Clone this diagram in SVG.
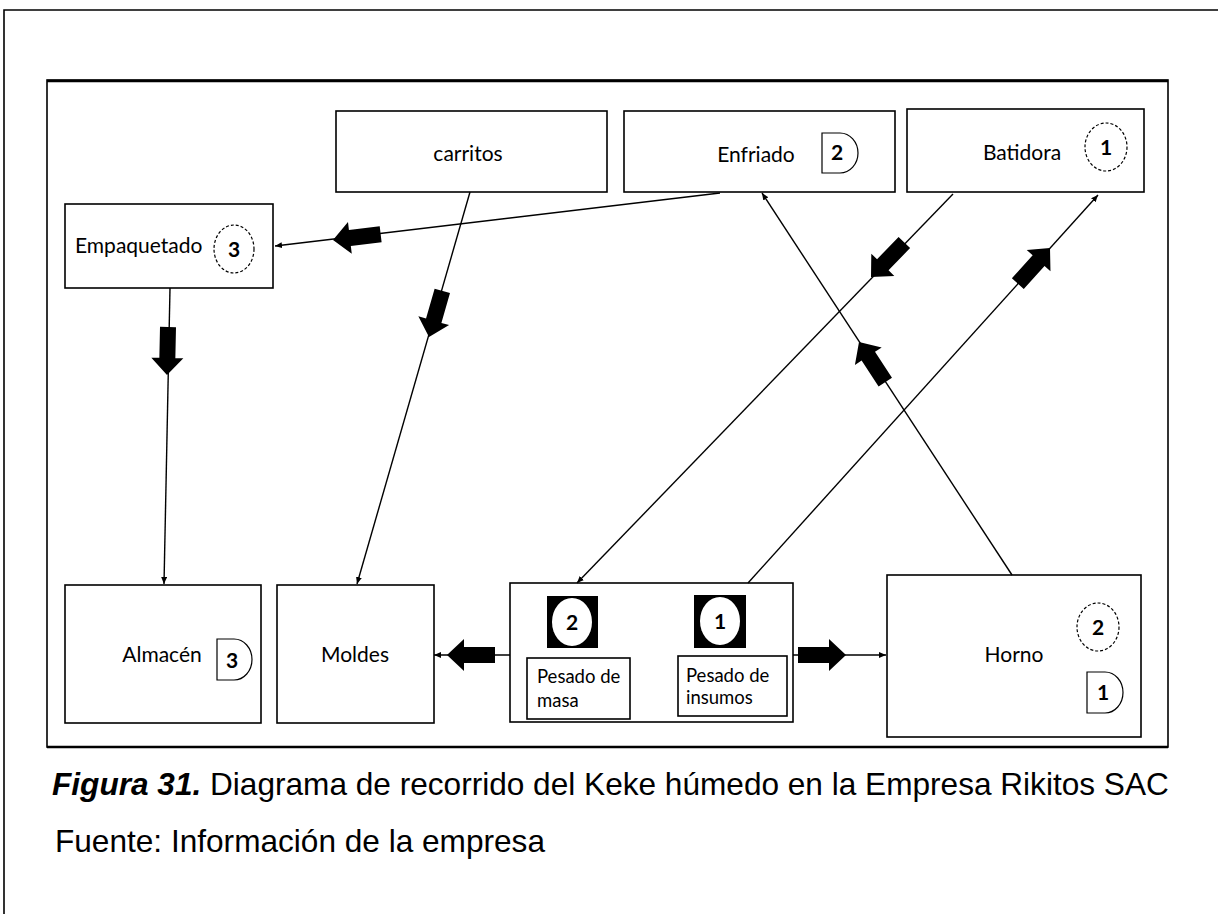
<svg xmlns="http://www.w3.org/2000/svg" width="1218" height="914" viewBox="0 0 1218 914">
<style>
.box{fill:#fff;stroke:#000;stroke-width:1.6}
.lbl{font-family:Lato,"Liberation Sans",sans-serif;font-size:21px;fill:#000}
.sm{font-family:Lato,"Liberation Sans",sans-serif;font-size:18.5px;fill:#000}
.num{font-family:Lato,"Liberation Sans",sans-serif;font-size:21px;font-weight:bold;fill:#000;text-anchor:middle}
.dc{fill:#fff;stroke:#000;stroke-width:1.2;stroke-dasharray:3 2}
.dl{fill:#fff;stroke:#000;stroke-width:1.2}
.ln{stroke:#000;stroke-width:1.4;fill:none;marker-end:url(#ah)}
.fat{fill:#000}
.cap{font-family:"Liberation Sans",Arial,sans-serif;font-size:31.6px;fill:#000}
</style>
<defs>
<marker id="ah" markerUnits="userSpaceOnUse" markerWidth="8" markerHeight="8" refX="7" refY="3" orient="auto"><path d="M0,0 L7,3 L0,6 z" fill="#000"/></marker>
<path id="fa" d="M0,0 L-17,-16 L-17,-8 L-48,-8 L-48,8 L-17,8 L-17,16 Z"/>
</defs>
<rect width="1218" height="914" fill="#fff"/>
<path d="M4,914 L4,10 L1218,10" fill="none" stroke="#000" stroke-width="1.6"/>
<rect x="47" y="80" width="1121" height="667" fill="none" stroke="#000" stroke-width="1.6"/>
<line x1="47" y1="81" x2="1168" y2="81" stroke="#000" stroke-width="2.5"/>
<line x1="47" y1="747" x2="1168" y2="747" stroke="#000" stroke-width="2.5"/>

<g id="carritos"><rect class="box" x="336" y="111" width="271" height="81"/><text class="lbl" x="468" y="161" text-anchor="middle">carritos</text></g>
<g id="enfriado"><rect class="box" x="624" y="111" width="271" height="81"/><text class="lbl" x="756" y="162" text-anchor="middle">Enfriado</text><path class="dl" d="M822,133 L840,133 A18,20 0 0 1 840,173 L822,173 Z"/><text class="num" x="837" y="160">2</text></g>
<g id="batidora"><rect class="box" x="907" y="109" width="237" height="83"/><text class="lbl" x="1022" y="160" text-anchor="middle">Batidora</text><ellipse class="dc" cx="1106" cy="147" rx="21" ry="24"/><text class="num" x="1106" y="155">1</text></g>
<g id="empaquetado"><rect class="box" x="65" y="204" width="208" height="84"/><text class="lbl" x="75" y="253">Empaquetado</text><ellipse class="dc" cx="234" cy="249" rx="20" ry="24"/><text class="num" x="234" y="257" font-weight="normal">3</text></g>
<g id="almacen"><rect class="box" x="65" y="585" width="196" height="138"/><text class="lbl" x="162" y="662" text-anchor="middle">Almacén</text><path class="dl" d="M217,639 L234,639 A18,20.5 0 0 1 234,680 L217,680 Z"/><text class="num" x="232" y="668" font-weight="normal">3</text></g>
<g id="moldes"><rect class="box" x="277" y="585" width="157" height="138"/><text class="lbl" x="355" y="662" text-anchor="middle">Moldes</text></g>
<g id="pesado"><rect class="box" x="510" y="583" width="283" height="139"/>
<rect x="547" y="596" width="51" height="52" fill="#000"/><ellipse cx="572" cy="622" rx="20" ry="24" fill="#fff"/><text class="num" x="572" y="630">2</text>
<rect x="694" y="595" width="52" height="53" fill="#000"/><ellipse cx="720" cy="621" rx="20" ry="24" fill="#fff"/><text class="num" x="720" y="629" font-weight="normal">1</text>
<rect class="box" x="527" y="658" width="103" height="61"/><text class="sm" x="537" y="683">Pesado de</text><text class="sm" x="537" y="707">masa</text>
<rect class="box" x="678" y="656" width="109" height="60"/><text class="sm" x="686" y="682">Pesado de</text><text class="sm" x="686" y="704">insumos</text></g>
<g id="horno"><rect class="box" x="887" y="575" width="254" height="162"/><text class="lbl" x="1014" y="662" text-anchor="middle">Horno</text><ellipse class="dc" cx="1098" cy="627" rx="21" ry="24"/><text class="num" x="1098" y="635">2</text><path class="dl" d="M1087,672 L1105,672 A18,20.5 0 0 1 1105,713 L1087,713 Z"/><text class="num" x="1103" y="700">1</text></g>

<g id="connectors">
<line class="ln" x1="720" y1="193" x2="275" y2="246"/>
<line class="ln" x1="470" y1="192" x2="357" y2="584"/>
<line class="ln" x1="170" y1="288" x2="164" y2="584"/>
<line class="ln" x1="953" y1="194" x2="577" y2="583"/>
<line class="ln" x1="748" y1="583" x2="1098" y2="195"/>
<line class="ln" x1="1012" y1="575" x2="762" y2="193"/>
<line class="ln" x1="510" y1="655" x2="434" y2="655"/>
<line class="ln" x1="793" y1="655" x2="886" y2="655"/>
<use href="#fa" class="fat" transform="translate(333,240) rotate(173.2)"/>
<use href="#fa" class="fat" transform="translate(429,337) rotate(106.1)"/>
<use href="#fa" class="fat" transform="translate(167,375) rotate(91.2)"/>
<use href="#fa" class="fat" transform="translate(871,277) rotate(134)"/>
<use href="#fa" class="fat" transform="translate(1050,248) rotate(-47.9)"/>
<use href="#fa" class="fat" transform="translate(859,342) rotate(-123.2)"/>
<use href="#fa" class="fat" transform="translate(447,655) rotate(180)"/>
<use href="#fa" class="fat" transform="translate(846,655) rotate(0)"/>
</g>

<text class="cap" x="52" y="795"><tspan font-weight="bold" font-style="italic">Figura 31.</tspan> Diagrama de recorrido del Keke húmedo en la Empresa Rikitos SAC</text>
<text class="cap" x="55" y="852">Fuente: Información de la empresa</text>
</svg>
